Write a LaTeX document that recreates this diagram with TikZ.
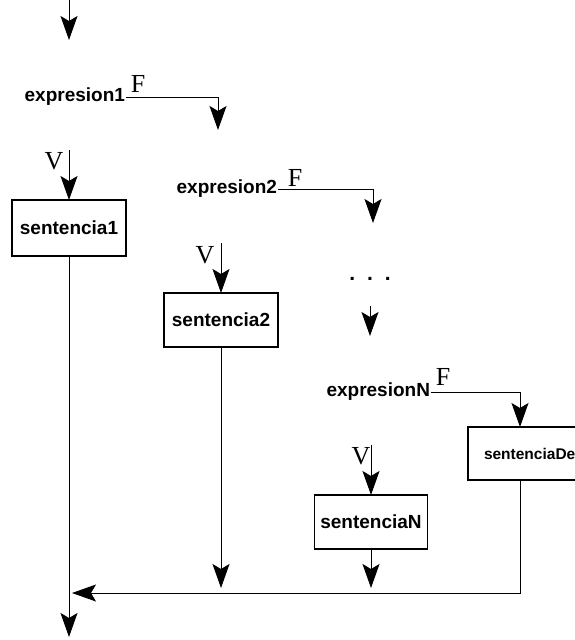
\documentclass[tikz,border=0pt]{standalone}
\usepackage{fontspec}
\setmainfont{Liberation Serif}
\setsansfont{Liberation Sans}
\usetikzlibrary{arrows.meta}

\begin{document}
\begin{tikzpicture}[x=1pt, y=-1pt,
  every node/.style={outer sep=0pt},
  box/.style={draw, line width=1.2pt, inner sep=0pt, font=\sffamily\bfseries\fontsize{19}{22}\selectfont},
  expr/.style={anchor=east, inner sep=1pt, font=\sffamily\bfseries\fontsize{19}{22}\selectfont},
  lab/.style={inner sep=0pt, font=\fontsize{26}{28}\selectfont},
  arr/.style={line width=1pt, -{Stealth[length=24pt, width=17pt, inset=5pt]}}]
\useasboundingbox (0,0) rectangle (575,640);
\clip (0,0) rectangle (575,640);

\coordinate (in) at (69,0);
\coordinate (join) at (69,593);
\coordinate (out) at (69,637);
\coordinate (fN) at (520,392);

\node[expr] (e1) at (126,97) {expresion1};
\node[lab] (f1) at (138,84) {F};
\node[lab] (v1) at (54,161) {V};
\node[box, minimum width=114pt, minimum height=56pt] (s1) at (69,228) {sentencia1};

\node[expr] (e2) at (278,189) {expresion2};
\node[lab] (f2) at (295,178) {F};
\node[lab] (v2) at (205,255) {V};
\node[box, minimum width=114pt, minimum height=54pt] (s2) at (221,320) {sentencia2};

\node[inner sep=0pt, font=\sffamily\bfseries\fontsize{21}{22}\selectfont] (dots) at (370,279) {.\hspace{12pt}.\hspace{12pt}.};

\node[expr] (eN) at (431,392) {expresionN};
\node[lab] (fN lab) at (443,377) {F};
\node[lab] (vN) at (361,456) {V};
\node[box, minimum width=113pt, minimum height=54pt] (sN) at (371,522) {sentenciaN};
\node[box, anchor=north west, text width=130pt, minimum height=53pt, inner xsep=16pt, font=\sffamily\bfseries\fontsize{15.5}{18}\selectfont] (sD) at (468,427) {sentenciaDe};

\draw[arr] (in) -- ++(0,40);
\draw[arr] (e1.east) -- ++(92,0) -- ++(0,33);
\draw[arr] ([yshift=50pt]s1.north) -- (s1.north);
\draw[arr] (s1.south) -- (out);

\draw[arr] (e2.east) -- ++(95,0) -- ++(0,34);
\draw[arr] ([yshift=50pt]s2.north) -- (s2.north);
\draw[arr, shorten >=5pt] (s2.south) -- (s2.south |- join);

\draw[arr] ([yshift=-27pt]dots.center) -- ++(0,30);

\draw[arr] (eN.east) -- (fN) -- (fN |- sD.north);
\draw[arr] ([yshift=50pt]sN.north) -- (sN.north);
\draw[arr, shorten >=5pt] (sN.south) -- (sN.south |- join);
\draw[arr, shorten >=3pt] (fN |- sD.south) -- (fN |- join) -- (join);
\end{tikzpicture}
\end{document}
